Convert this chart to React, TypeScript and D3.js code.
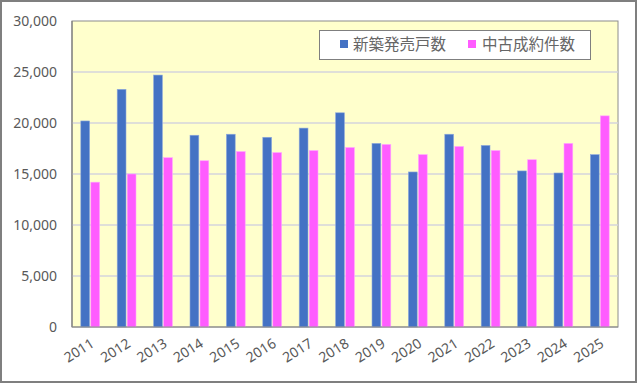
import React from "react";
import * as d3 from "d3";

const years = ["2011","2012","2013","2014","2015","2016","2017","2018","2019","2020","2021","2022","2023","2024","2025"];
const newSales = [20200,23300,24700,18800,18900,18600,19500,21000,18000,15200,18900,17800,15300,15100,16900];
const usedContracts = [14200,15000,16600,16300,17200,17100,17300,17600,17900,16900,17700,17300,16400,18000,20700];
const seriesNames = ["新築発売戸数", "中古成約件数"];
const yTicks = [0,5000,10000,15000,20000,25000,30000];

const W = 640, H = 385;
const plot = { left: 72, top: 21, right: 618, bottom: 327 };
const colors = ["#4472C4", "#FF5CFF"];

export default function App() {
  const x = d3.scaleBand<string>().domain(years).range([plot.left, plot.right]).paddingInner(0).paddingOuter(0);
  const y = d3.scaleLinear().domain([0, 30000]).range([plot.bottom, plot.top]);
  const bw = 8.8;
  const fmt = d3.format(",");
  const series = [newSales, usedContracts];
  const numFont = "'Noto Sans', 'DejaVu Sans', sans-serif";
  return (
    <div style={{ position: "absolute", left: 0, top: 0 }}>
      <svg width={W} height={H} style={{ display: "block" }}>
        <rect x={0} y={0} width={W} height={H} fill="#fff" />
        <rect x={1} y={1} width={635} height={381} fill="#fff" stroke="#7f7f7f" strokeWidth={2} />
        <rect x={plot.left} y={plot.top} width={plot.right - plot.left} height={plot.bottom - plot.top} fill="#FFFFCC" stroke="#8c8c8c" strokeWidth={1} />
        {yTicks.filter(t => t > 0 && t < 30000).map(t => (
          <line key={t} x1={plot.left} x2={plot.right} y1={y(t)} y2={y(t)} stroke="#D4D4DC" strokeWidth={1.3} />
        ))}
        {years.map((yr, i) => {
          const cx = (x(yr) as number) + x.bandwidth() / 2;
          return series.map((s, k) => (
            <rect key={yr + k} x={k === 0 ? cx - bw - 0.6 : cx + 0.6} y={y(s[i])} width={bw} height={plot.bottom - y(s[i])}
              fill={colors[k]} stroke={k === 0 ? "#8fa9dc" : "#ffa8ff"} strokeWidth={0.6} />
          ));
        })}
        <line x1={plot.left} x2={plot.left} y1={plot.top} y2={plot.bottom} stroke="#7f7f7f" strokeWidth={1.2} />
        <line x1={plot.left} x2={plot.right} y1={plot.bottom} y2={plot.bottom} stroke="#8c8c8c" strokeWidth={1.2} />
        {yTicks.map(t => (
          <text key={t} x={57} y={y(t)} dy="0.35em" textAnchor="end" fontSize={14} fill="#595959" fontFamily={numFont}>{fmt(t)}</text>
        ))}
        {years.map(yr => {
          const cx = (x(yr) as number) + x.bandwidth() / 2;
          return (
            <text key={yr} transform={`translate(${cx + 5},${346}) rotate(-32)`} textAnchor="end" fontSize={14} fill="#595959" fontFamily={numFont}>{yr}</text>
          );
        })}
        <g>
          <rect x={319.5} y={30.5} width={271} height={29} fill="#fff" stroke="#7f7f7f" strokeWidth={1} />
          <rect x={340} y={40} width={8} height={8} fill={colors[0]} />
          <text x={353} y={44} dy="0.36em" fontSize={15.5} fill="#666" fontFamily="'Noto Sans CJK JP', sans-serif">{seriesNames[0]}</text>
          <rect x={468} y={40} width={8} height={8} fill={colors[1]} />
          <text x={482} y={44} dy="0.36em" fontSize={15.5} fill="#666" fontFamily="'Noto Sans CJK JP', sans-serif">{seriesNames[1]}</text>
        </g>
      </svg>
    </div>
  );
}
